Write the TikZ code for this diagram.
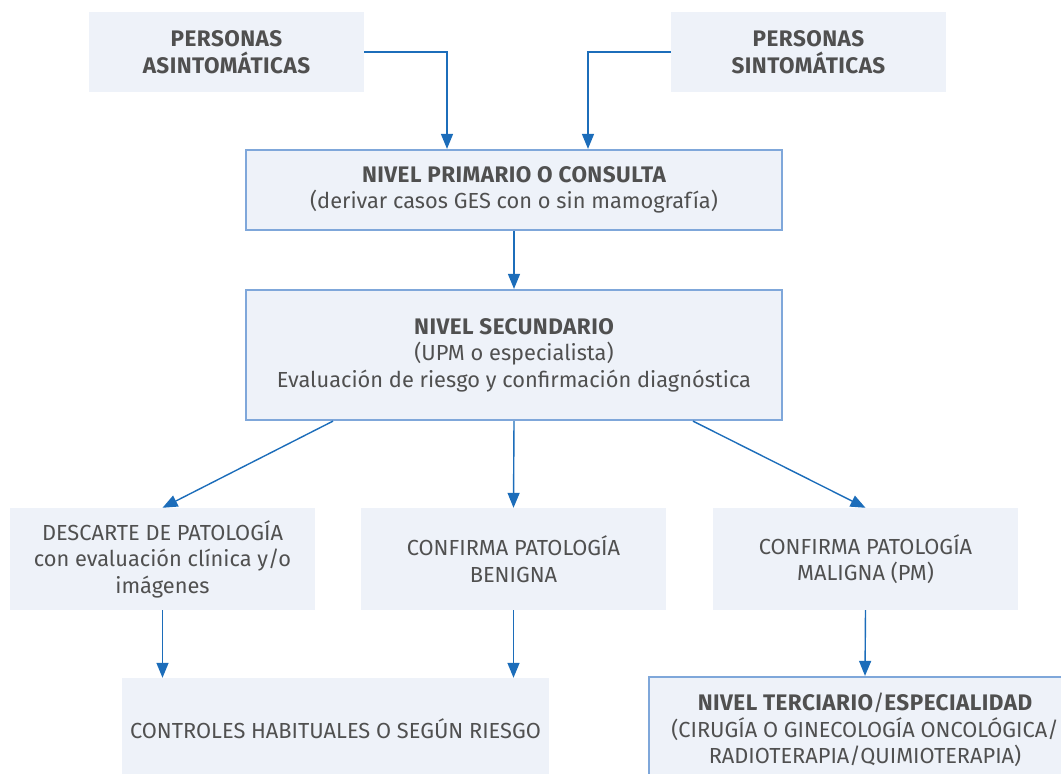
\documentclass[tikz,border=0pt]{standalone}
\usepackage{fontspec}
\setmainfont{Fira Sans}
\usetikzlibrary{arrows.meta,calc}
\definecolor{cajafondo}{HTML}{EEF2F9}
\definecolor{cajaborde}{HTML}{7FA7DA}
\definecolor{flecha}{HTML}{1C6DBA}
\definecolor{texto}{HTML}{505050}
\newcommand{\negrita}[1]{{\fontsize{22.5}{26.5}\selectfont\bfseries\addfontfeature{LetterSpace=2}#1}}
\tikzset{
    caja/.style={fill=cajafondo, text=texto, align=center, inner sep=0pt,
        font=\fontsize{21.8}{26.5}\selectfont},
    nivel/.style={caja, draw=cajaborde, line width=2.2pt},
    flechita/.style={draw=flecha, line width=1.4pt, -{Triangle[width=12pt,length=15pt]}},
}

\begin{document}
\begin{tikzpicture}[x=1pt,y=-1pt]
    \useasboundingbox (0,0) rectangle (1061,774);
    \clip (0,0) rectangle (1061,774);
    % entradas
    \node[caja, minimum width=275pt, minimum height=80pt] (asint) at (226.5,52) {\negrita{PERSONAS}\\\negrita{ASINTOMÁTICAS}};
    \node[caja, minimum width=275pt, minimum height=80pt] (sint) at (808.5,52) {\negrita{PERSONAS}\\\negrita{SINTOMÁTICAS}};
    % niveles
    \node[nivel, minimum width=536pt, minimum height=80pt] (prim) at (514,190) {\negrita{NIVEL PRIMARIO O CONSULTA}\\(derivar casos GES con o sin mamografía)};
    \node[nivel, minimum width=536pt, minimum height=130pt] (sec) at (514,355) {\negrita{NIVEL SECUNDARIO}\\(UPM o especialista)\\Evaluación de riesgo y confirmación diagnóstica};
    % resultados
    \node[caja, minimum width=305pt, minimum height=102pt] (desc) at (162.5,559) {DESCARTE DE PATOLOGÍA\\con evaluación clínica y/o\\imágenes};
    \node[caja, minimum width=305pt, minimum height=102pt] (ben) at (513.5,559) {CONFIRMA PATOLOGÍA\\BENIGNA};
    \node[caja, minimum width=305pt, minimum height=102pt] (mal) at (865.5,559) {CONFIRMA PATOLOGÍA\\MALIGNA (PM)};
    % salidas
    \node[caja, minimum width=427pt, minimum height=102pt] (ctrl) at (335.5,729) {CONTROLES HABITUALES O SEGÚN RIESGO};
    \node[nivel, minimum width=432pt, minimum height=106pt] (terc) at (865,730) {\negrita{NIVEL TERCIARIO}/\negrita{ESPECIALIDAD}\\(CIRUGÍA O GINECOLOGÍA ONCOLÓGICA/\\RADIOTERAPIA/QUIMIOTERAPIA)};
    % flechas
    \draw[flechita] (asint.east) -| ([xshift=-67pt]prim.north);
    \draw[flechita] (sint.west) -| ([xshift=74pt]prim.north);
    \draw[flechita] (prim.south) -- (sec.north);
    \draw[flechita] ([xshift=-181pt]sec.south) -- (desc.north);
    \draw[flechita] (sec.south) -- (ben.north);
    \draw[flechita] ([xshift=179pt]sec.south) -- (mal.north);
    \draw[flechita] (desc.south) -- (desc.south |- ctrl.north);
    \draw[flechita] (ben.south) -- (ben.south |- ctrl.north);
    \draw[flechita] (mal.south) -- (terc.north);
\end{tikzpicture}
\end{document}
